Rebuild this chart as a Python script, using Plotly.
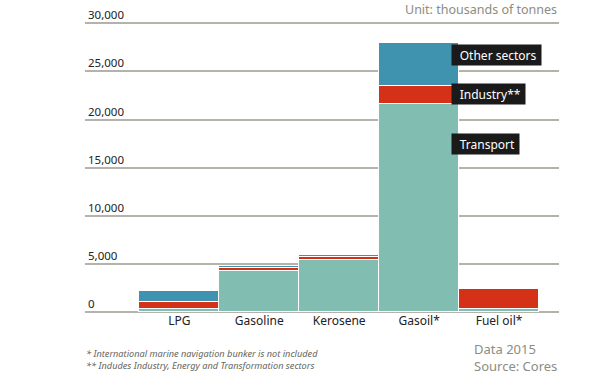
import plotly.graph_objects as go

categories = ["LPG", "Gasoline", "Kerosene", "Gasoil*", "Fuel oil*"]
transport = [300, 4300, 5450, 21600, 350]
industry = [700, 250, 230, 1900, 2050]
other_sectors = [1150, 250, 270, 4450, 0]
y_ticks = [0, 5000, 10000, 15000, 20000, 25000, 30000]
y_tick_labels = ["0", "5,000", "10,000", "15,000", "20,000", "25,000", "30,000"]
series_labels = ["Transport", "Industry**", "Other sectors"]
label_y = [17470, 22660, 26700]

colors = ["#82bdb2", "#d43118", "#4093ae"]
FONT = "Noto Sans"

# plot area in pixels
L, R, T, B = 85, 559, 5, 312
W, H = 600, 380

fig = go.Figure()
for name, vals, col in zip(series_labels, [transport, industry, other_sectors], colors):
    fig.add_trace(go.Bar(
        x=categories, y=vals, name=name,
        marker=dict(color=col, line=dict(color="white", width=1)),
        width=1.0,
    ))

for name, yv in zip(series_labels, label_y):
    fig.add_annotation(
        x=3.5, y=yv, xref="x", yref="y", text="&nbsp;&nbsp;" + name + "&nbsp;",
        showarrow=False,
        xanchor="left", yanchor="middle", xshift=-8,
        font=dict(family=FONT, size=12, color="white"),
        bgcolor="#1b1a1a", borderpad=1.5,
    )

def px_to_paper(x, y):
    return (x - L) / (R - L), (B - y) / (B - T)

ux, uy = px_to_paper(559, 9)
fig.add_annotation(
    x=ux, y=uy, xref="paper", yref="paper",
    text="Unit: thousands of tonnes", showarrow=False,
    xanchor="right", yanchor="middle",
    font=dict(family=FONT, size=12.5, color="#8c8c82"),
)
fx, fy = px_to_paper(84, 359)
fig.add_annotation(
    x=fx, y=fy, xref="paper", yref="paper",
    text="<i>* International marine navigation bunker is not included<br>** Indudes Industry, Energy and Transformation sectors</i>",
    showarrow=False, xanchor="left", yanchor="middle", align="left",
    font=dict(family=FONT, size=9.2, color="#66665e"),
)
sx, sy = px_to_paper(472, 357)
fig.add_annotation(
    x=sx, y=sy, xref="paper", yref="paper",
    text="Data 2015<br>Source: Cores", showarrow=False,
    xanchor="left", yanchor="middle", align="left",
    font=dict(family=FONT, size=13, color="#8c8c82"),
)

fig.update_layout(
    width=W, height=H,
    margin=dict(l=L, r=W - R, t=T, b=H - B, autoexpand=False),
    barmode="stack", bargap=0,
    plot_bgcolor="white", paper_bgcolor="white",
    showlegend=False,
    font=dict(family=FONT, color="#222222"),
    xaxis=dict(
        range=[-1.18, 4.75], showgrid=False, zeroline=False, showline=False,
        ticks="", tickfont=dict(family=FONT, size=12, color="#222222"),
        fixedrange=True, automargin=False,
    ),
    yaxis=dict(
        range=[0, 31900], tickvals=y_ticks, ticktext=y_tick_labels,
        ticklabelposition="inside top",
        showgrid=True, gridcolor="#b3b3ab", gridwidth=1.5,
        zeroline=True, zerolinecolor="#b3b3ab", zerolinewidth=1.5,
        showline=False, ticks="",
        tickfont=dict(family=FONT, size=11.5, color="#222222"),
        fixedrange=True, automargin=False,
    ),
)
fig.write_html(
    "out.html",
    config={"displayModeBar": False},
    post_script="document.body.style.margin='0px';document.body.style.overflow='hidden';",
)
